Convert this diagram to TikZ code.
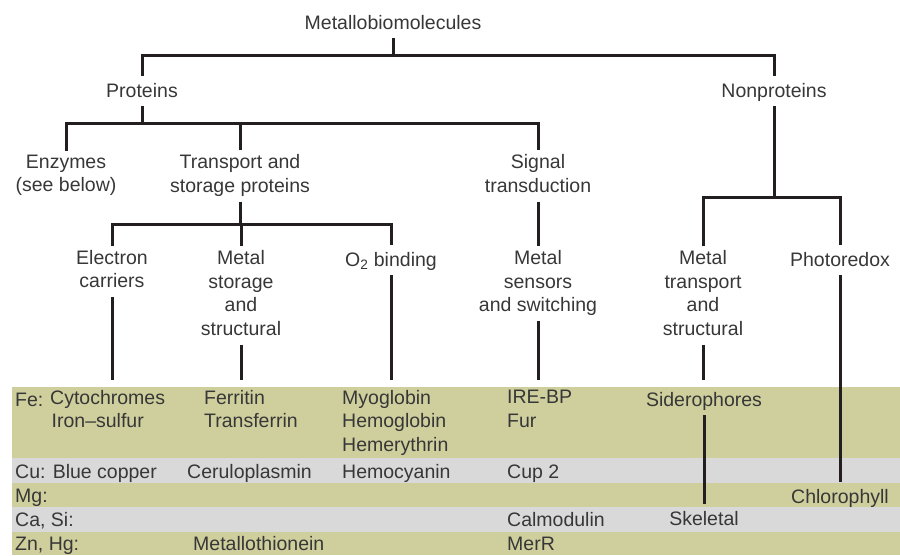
\documentclass[tikz,border=0pt]{standalone}
\usepackage{fontspec}
\setmainfont{Liberation Sans}
\definecolor{bandolive}{RGB}{207,207,158}
\definecolor{bandgray}{RGB}{217,217,217}
\definecolor{inkline}{RGB}{35,31,32}
\definecolor{inktext}{RGB}{55,55,55}
\newcommand{\cellstrut}{\rule[-5pt]{0pt}{22pt}}

\begin{document}
\begin{tikzpicture}[
    x=1pt, y=-1pt,
    every node/.style={font=\fontsize{19.5}{23.5}\selectfont, text=inktext},
    cat/.style={align=center, inner xsep=2pt, inner ysep=4pt,
                execute at begin node=\cellstrut, execute at end node=\cellstrut},
    entry/.style={anchor=west, align=left, inner xsep=0pt, inner ysep=4pt,
                  execute at begin node=\cellstrut, execute at end node=\cellstrut},
    link/.style={draw=inkline, line width=3pt}
]
  \useasboundingbox (0,0) rectangle (900,555);

  \fill[bandolive] (12,387) rectangle (900,458);
  \fill[bandgray]  (12,458) rectangle (900,483);
  \fill[bandolive] (12,483) rectangle (900,507);
  \fill[bandgray]  (12,507) rectangle (900,532);
  \fill[bandolive] (12,532) rectangle (900,555);

  \node[cat] (meta) at (393,23) {Metallobiomolecules};
  \node[cat] (prot) at (142,91) {Proteins};
  \node[cat] (nonprot) at (774,91) {Nonproteins};
  \node[cat] (enz) at (66,176) {Enzymes\\(see below)};
  \node[cat] (trans) at (240,176) {Transport and\\storage proteins};
  \node[cat] (sig) at (538,176) {Signal\\transduction};
  \node[cat] (elec) at (112,271.5) {Electron\\carriers};
  \node[cat] (mstor) at (241,295.5) {Metal\\storage\\and\\structural};
  \node[cat] (o2) at (391,260) {O\textsubscript{2} binding};
  \node[cat] (msens) at (538,283.5) {Metal\\sensors\\and switching};
  \node[cat] (mtrans) at (703,295.5) {Metal\\transport\\and\\structural};
  \node[cat] (photo) at (840,260) {Photoredox};
  \node[cat] (sidero) at (704,400) {Siderophores};
  \node[cat] (skel) at (704,519) {Skeletal};
  \node[cat] (chloro) at (840,497) {Chlorophyll};

  \node[entry] (fe) at (15,400) {Fe:};
  \node[entry] (fe1) at (50,411.5) {Cytochromes\\\hspace*{1.5pt}Iron--sulfur};
  \node[entry] (fe2) at (204,411.5) {Ferritin\\Transferrin};
  \node[entry] (fe3) at (342,423) {Myoglobin\\Hemoglobin\\Hemerythrin};
  \node[entry] (fe4) at (507,411.5) {IRE-BP\\Fur};
  \node[entry] (cu) at (15,472) {Cu: Blue copper};
  \node[entry] (cu2) at (187,472) {Ceruloplasmin};
  \node[entry] (cu3) at (342,472) {Hemocyanin};
  \node[entry] (cu4) at (507,472) {Cup 2};
  \node[entry] (mg) at (15,496) {Mg:};
  \node[entry] (ca) at (15,520) {Ca, Si:};
  \node[entry] (ca4) at (507,520) {Calmodulin};
  \node[entry] (zn) at (15,544) {Zn, Hg:};
  \node[entry] (zn2) at (193,544) {Metallothionein};
  \node[entry] (zn4) at (507,544) {MerR};

  \coordinate (j1) at (393,55);
  \coordinate (j2) at (142,123);
  \coordinate (j3) at (240,224);
  \coordinate (j4) at (774,197);
  \coordinate (tab) at (0,380);

  \draw[link] (meta.south) -- (j1);
  \draw[link] (prot.north) |- (j1) -| (nonprot.north);
  \draw[link] (prot.south) -- (j2);
  \draw[link] (enz.north) |- (j2) -| (sig.north);
  \draw[link] (trans.north) -- (trans.north |- j2);
  \draw[link] (trans.south) -- (j3);
  \draw[link] (elec.north) |- (j3) -| (o2.north);
  \draw[link] (mstor.north) -- (mstor.north |- j3);
  \draw[link] (sig.south) -- (msens.north);
  \draw[link] (nonprot.south) -- (j4);
  \draw[link] (mtrans.north) |- (j4) -| (photo.north);
  \draw[link] (elec.south) -- (elec.south |- tab);
  \draw[link] (mstor.south) -- (mstor.south |- tab);
  \draw[link] (o2.south) -- (o2.south |- tab);
  \draw[link] (msens.south) -- (msens.south |- tab);
  \draw[link] (mtrans.south) -- (mtrans.south |- tab);
  \draw[link] (photo.south) -- (chloro.north);
  \draw[link] (sidero.south) -- (skel.north);
\end{tikzpicture}
\end{document}
